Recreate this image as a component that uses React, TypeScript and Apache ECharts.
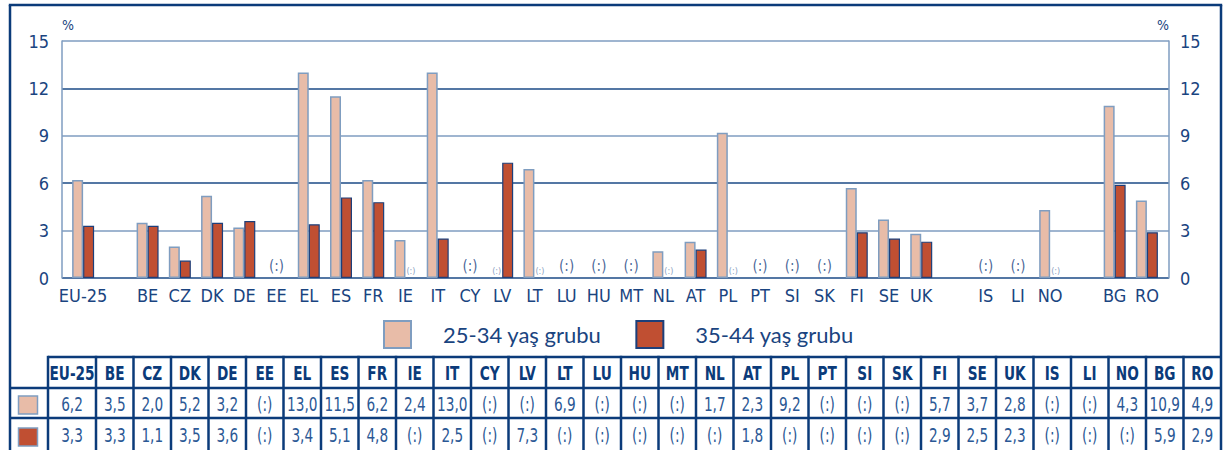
import React, { useEffect, useRef } from 'react';
import * as echarts from 'echarts';

const categories = ['EU-25', '', 'BE', 'CZ', 'DK', 'DE', 'EE', 'EL', 'ES', 'FR', 'IE', 'IT', 'CY', 'LV', 'LT', 'LU', 'HU', 'MT', 'NL', 'AT', 'PL', 'PT', 'SI', 'SK', 'FI', 'SE', 'UK', '', 'IS', 'LI', 'NO', '', 'BG', 'RO'];
const age2534: (number | null)[] = [6.2, null, 3.5, 2.0, 5.2, 3.2, null, 13.0, 11.5, 6.2, 2.4, 13.0, null, null, 6.9, null, null, null, 1.7, 2.3, 9.2, null, null, null, 5.7, 3.7, 2.8, null, null, null, 4.3, null, 10.9, 4.9];
const age3544: (number | null)[] = [3.3, null, 3.3, 1.1, 3.5, 3.6, null, 3.4, 5.1, 4.8, null, 2.5, null, 7.3, null, null, null, null, null, 1.8, null, null, null, null, 2.9, 2.5, 2.3, null, null, null, null, null, 5.9, 2.9];
const seriesNames = ['25-34 yaş grubu', '35-44 yaş grubu'];
const yMin = 0;
const yMax = 15;
const yStep = 3;
const missingLabel = '(:)';

const NARROW = '"Liberation Sans Narrow", "DejaVu Sans Condensed", "Arial Narrow", sans-serif';
const DARK = '#0b3b7a';
const TEXT = '#1a4480';
const VALTEXT = '#2b5895';
const STEEL = '#7f9dc0';
const PINK = '#e8bca8';
const RED = '#c04f32';

function fmt(v: number | null) {
  return v == null ? missingLabel : v.toFixed(1).replace('.', ',');
}

function barData(vals: (number | null)[], other: (number | null)[]) {
  return vals.map((v, i) => {
    if (categories[i] === '') return '-';
    if (v != null) return v;
    if (other[i] == null) return '-';
    return {
      value: 0,
      itemStyle: { color: 'transparent', borderColor: 'transparent', borderWidth: 0 },
      label: {
        show: true,
        position: 'top',
        distance: 3,
        formatter: missingLabel,
        fontSize: 9,
        color: '#8aa2c2',
        fontFamily: NARROW,
      },
    };
  });
}

function buildGraphic() {
  const els: any[] = [];
  const L = 10, R = 1221, top = 5;
  const tTop = 357, r1 = 388, r2 = 418, bottom = 452;
  const c0 = 48, c1 = 96;
  const countries = categories.filter((c) => c !== '');
  const rows = [age2534.filter((_, i) => categories[i] !== ''), age3544.filter((_, i) => categories[i] !== '')];
  const colW = (R - c1) / (countries.length - 1);
  const ls = { stroke: DARK, lineWidth: 2.5 };
  const line = (x1: number, y1: number, x2: number, y2: number) =>
    els.push({ type: 'line', shape: { x1, y1, x2, y2 }, style: ls, z: 10 });
  // frame
  line(L - 1.2, top, R + 1.2, top);
  line(L, top, L, bottom);
  line(R, top, R, bottom);
  // table
  line(c0, tTop, R, tTop);
  line(L, r1, R, r1);
  line(L, r2, R, r2);
  const bounds = [c0, c1];
  for (let k = 1; k < countries.length; k++) bounds.push(c1 + k * colW);
  bounds.forEach((x, k) => {
    if (k < bounds.length - 1) line(x, tTop - 1.2, x, bottom);
  });
  countries.forEach((c, k) => {
    const cx = (bounds[k] + bounds[k + 1]) / 2;
    els.push({
      type: 'text', x: cx, y: (tTop + r1) / 2 + 1, z: 11, scaleX: 0.76,
      style: { text: c, fill: DARK, font: `bold 20px ${NARROW}`, align: 'center', verticalAlign: 'middle' },
    });
    rows.forEach((row, ri) => {
      els.push({
        type: 'text', x: cx, y: ri === 0 ? (r1 + r2) / 2 + 1 : (r2 + 450) / 2 + 1, z: 11, scaleX: 0.8,
        style: { text: fmt(row[k]), fill: VALTEXT, font: `19px ${NARROW}`, align: 'center', verticalAlign: 'middle' },
      });
    });
  });
  // swatches
  els.push({ type: 'rect', shape: { x: 18.5, y: 396, width: 19, height: 18 }, style: { fill: PINK, stroke: STEEL, lineWidth: 1.5 }, z: 11 });
  els.push({ type: 'rect', shape: { x: 18.5, y: 428, width: 19, height: 18 }, style: { fill: RED, stroke: STEEL, lineWidth: 1.5 }, z: 11 });
  return els;
}

export default function App() {
  const ref = useRef<HTMLDivElement>(null);
  useEffect(() => {
    document.body.style.margin = '0';
    const chart = echarts.init(ref.current!, null, { renderer: 'svg' });
    const bothMissing = categories.map((c, i) => (c !== '' && age2534[i] == null && age3544[i] == null ? 0 : '-'));
    chart.setOption({
      animation: false,
      backgroundColor: '#ffffff',
      grid: [
        { left: 62, right: 57, top: 41, bottom: 172 },
        { left: 67, right: 63, top: 41, bottom: 172 },
      ],
      legend: {
        data: seriesNames,
        left: 383,
        top: 320,
        padding: 0,
        itemWidth: 27,
        itemHeight: 27,
        itemGap: 34,
        icon: 'rect',
        textStyle: { fontSize: 22, color: TEXT, fontFamily: 'Lato, "Open Sans", sans-serif', padding: [0, 0, 0, 27] },
      },
      xAxis: [
        { gridIndex: 0, type: 'category', data: categories, show: false },
        {
          gridIndex: 1,
          type: 'category',
          data: categories,
          axisLine: { show: false },
          axisTick: { show: false },
          axisLabel: { interval: 0, fontSize: 18, color: TEXT, fontFamily: NARROW, margin: 8 },
        },
      ],
      yAxis: [
        {
          gridIndex: 0, type: 'value', min: yMin, max: yMax, interval: yStep, position: 'left',
          name: '%', nameLocation: 'end', nameGap: 9,
          nameTextStyle: { align: 'left', fontSize: 14, color: TEXT, fontFamily: NARROW },
          axisLine: { show: true, lineStyle: { color: STEEL, width: 1.5 } },
          axisTick: { show: false },
          axisLabel: { fontSize: 18, color: TEXT, margin: 13, fontFamily: NARROW },
          splitLine: { show: true, lineStyle: { color: ['#1b4a86', STEEL], width: 1.5 } },
        },
        {
          gridIndex: 0, type: 'value', min: yMin, max: yMax, interval: yStep, position: 'right',
          name: '%', nameLocation: 'end', nameGap: 9,
          nameTextStyle: { align: 'right', fontSize: 14, color: TEXT, fontFamily: NARROW },
          axisLine: { show: true, lineStyle: { color: STEEL, width: 1.5 } },
          axisTick: { show: false },
          axisLabel: { fontSize: 18, color: TEXT, margin: 11, fontFamily: NARROW },
          splitLine: { show: false },
        },
        { gridIndex: 1, type: 'value', min: yMin, max: yMax, interval: yStep, show: false, splitLine: { show: false } },
      ],
      series: [
        {
          name: seriesNames[0], type: 'bar', xAxisIndex: 1, yAxisIndex: 2,
          barWidth: 11, barGap: '0%',
          itemStyle: { color: PINK, borderColor: STEEL, borderWidth: 1.5 },
          data: barData(age2534, age3544),
        },
        {
          name: seriesNames[1], type: 'bar', xAxisIndex: 1, yAxisIndex: 2,
          barWidth: 11, barGap: '0%',
          itemStyle: { color: RED, borderColor: '#1d3f7a', borderWidth: 1.2 },
          data: barData(age3544, age2534),
        },
        {
          name: 'missing', type: 'scatter', xAxisIndex: 1, yAxisIndex: 2,
          symbolSize: 1,
          itemStyle: { color: 'transparent' },
          label: { show: true, position: 'top', distance: 4, formatter: missingLabel, fontSize: 15, color: TEXT, fontFamily: NARROW },
          data: bothMissing,
        },
      ],
      graphic: buildGraphic(),
    });
    return () => chart.dispose();
  }, []);
  return <div ref={ref} style={{ width: 1226, height: 450 }} />;
}
